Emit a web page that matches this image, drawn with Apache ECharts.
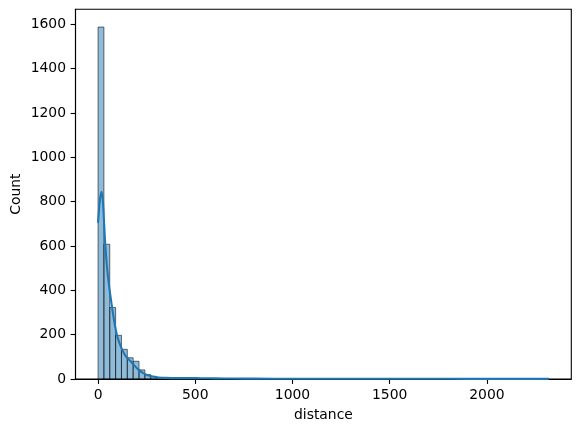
<!DOCTYPE html>
<html>
<head>
<meta charset="utf-8">
<style>
  html, body { margin: 0; padding: 0; background: #fff; }
  #chart { width: 580px; height: 432px; }
</style>
<script src="https://cdn.jsdelivr.net/npm/echarts@6/dist/echarts.min.js"></script>
</head>
<body>
<div id="chart"></div>
<script>
// histogram: first bin edge, bin width, counts per bin
const binStart = 0;
const binWidth = 30.1;
const counts = [
  1588, 608, 323, 197, 134, 96, 80, 41, 20, 12,
  7, 5, 4, 3, 3, 2, 2, 1, 1, 1,
  1, 0, 1, 0, 1, 0, 0, 1, 0, 0,
  0, 1, 0, 0, 0, 0, 1, 0, 0, 0,
  0, 0, 0, 1, 0, 0, 0, 0, 0, 1,
  0, 0, 0, 0, 0, 0, 0, 0, 1, 0,
  0, 0, 0, 0, 0, 0, 0, 0, 0, 0,
  0, 0, 0, 0, 0, 0, 1
];

// kde curve
const kdeX = [0, 10, 18, 25, 37, 50, 72, 97, 123, 145, 166, 190, 209, 230, 252, 280,
  310, 350, 400, 450, 500, 550, 600, 700, 800, 1000, 1200, 1500, 1800, 2000, 2200, 2318];
const kdeY = [705, 810, 845, 800, 608, 470, 323, 198, 134, 100, 81, 58, 41, 28, 18, 11,
  7, 5, 4, 4, 4, 3.5, 3, 2, 1.5, 1, 1, 1, 1, 0.5, 0.5, 0.5];

const xTicks = [0, 500, 1000, 1500, 2000];
const yTicks = [0, 200, 400, 600, 800, 1000, 1200, 1400, 1600];

const font = 'DejaVu Sans';
const chart = echarts.init(document.getElementById('chart'), null, { renderer: 'canvas' });

const bins = counts.map((c, i) => [binStart + i * binWidth, binStart + (i + 1) * binWidth, c]);
const kde = kdeX.map((x, i) => [x, kdeY[i]]);

chart.setOption({
  animation: false,
  grid: {
    left: 75.5, right: 8.7, top: 9.3, bottom: 53,
    outerBoundsMode: 'none',
    show: true, borderColor: '#000', borderWidth: 1.1, backgroundColor: '#fff'
  },
  xAxis: {
    type: 'value',
    min: -116, max: 2434,
    name: 'distance',
    nameLocation: 'middle',
    nameGap: 29,
    nameTextStyle: { fontFamily: font, fontSize: 13.9, color: '#000', verticalAlign: 'top' },
    axisLine: { show: true, onZero: false, lineStyle: { color: '#000', width: 1.1 } },
    axisTick: { show: true, length: 4.9, lineStyle: { color: '#000', width: 1.1 }, customValues: xTicks },
    axisLabel: { fontFamily: font, fontSize: 13.9, color: '#000', margin: 9, customValues: xTicks, formatter: v => String(v) },
    splitLine: { show: false }
  },
  yAxis: {
    type: 'value',
    min: 0, max: 1668,
    name: 'Count',
    nameLocation: 'middle',
    nameGap: 52,
    nameMoveOverlap: false,
    nameRotate: 90,
    nameTextStyle: { fontFamily: font, fontSize: 13.9, color: '#000' },
    axisLine: { show: true, onZero: false, lineStyle: { color: '#000', width: 1.1 } },
    axisTick: { show: true, length: 4.9, lineStyle: { color: '#000', width: 1.1 }, customValues: yTicks },
    axisLabel: { fontFamily: font, fontSize: 13.9, color: '#000', margin: 9.5, customValues: yTicks, formatter: v => String(v) },
    splitLine: { show: false }
  },
  series: [
    {
      type: 'custom',
      data: bins,
      encode: { x: [0, 1], y: 2 },
      renderItem: function (params, api) {
        const p0 = api.coord([api.value(0), 0]);
        const p1 = api.coord([api.value(1), api.value(2)]);
        return {
          type: 'rect',
          shape: { x: p0[0], y: p1[1], width: p1[0] - p0[0], height: p0[1] - p1[1] },
          style: { fill: 'rgba(31,119,180,0.5)', stroke: 'rgba(0,0,0,0.55)', lineWidth: 1 }
        };
      },
      z: 2
    },
    {
      type: 'line',
      data: kde,
      showSymbol: false,
      smooth: 0.35,
      lineStyle: { color: '#1f77b4', width: 2.1 },
      z: 3
    }
  ]
});
</script>
</body>
</html>
